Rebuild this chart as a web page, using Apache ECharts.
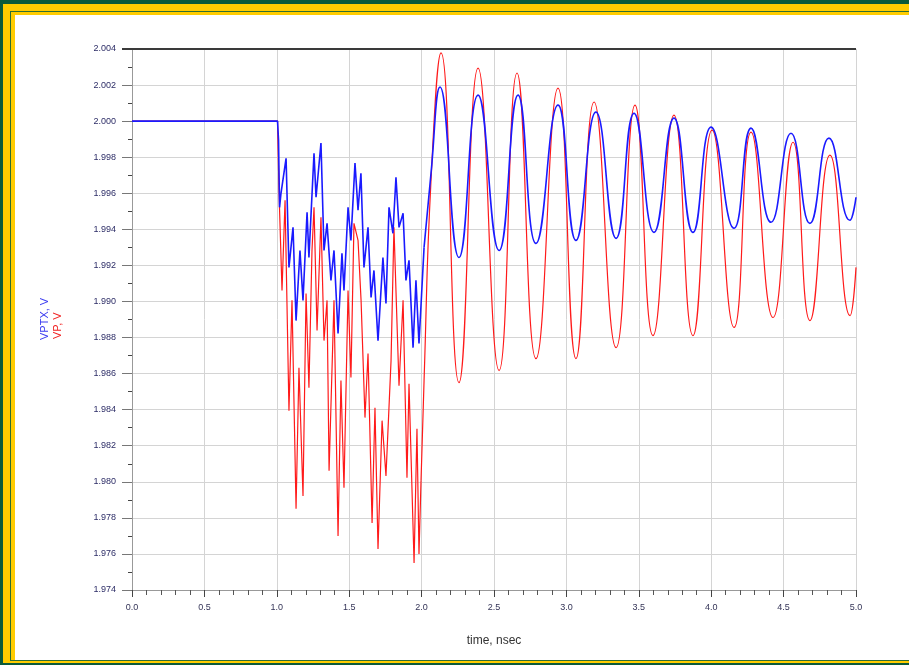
<!DOCTYPE html>
<html>
<head>
<meta charset="utf-8">
<script src="https://cdn.jsdelivr.net/npm/echarts@6/dist/echarts.min.js"></script>
<style>
  html, body { margin: 0; padding: 0; }
  body { width: 909px; height: 665px; position: relative; overflow: hidden; background: #0b5a3a; }
  .fr { position: absolute; }
  #chart { position: absolute; left: 0; top: 0; width: 909px; height: 665px; }
</style>
</head>
<body>
<div class="fr" style="left:3px;top:4px;right:0;bottom:2px;background:#ffcc00"></div>
<div class="fr" style="left:10px;top:11px;right:0;bottom:4px;background:#2f6e32"></div>
<div class="fr" style="left:11px;top:12px;right:0;bottom:5px;background:#ffcc00"></div>
<div class="fr" style="left:15px;top:15px;right:0;bottom:5px;background:#ffffff"></div>
<div id="chart"></div>
<script>
// VPTX (blue) and VP (red), time in nsec, volts
const blueStepTime = [0, 1.005, 1.012, 1.019, 1.029, 1.064, 1.084, 1.112, 1.133, 1.160, 1.181, 1.209, 1.222, 1.257, 1.271, 1.305, 1.326, 1.347, 1.374, 1.395, 1.423, 1.450, 1.464, 1.492, 1.512, 1.540, 1.561, 1.581, 1.602, 1.630, 1.651, 1.671, 1.699, 1.733, 1.754, 1.775, 1.802, 1.823, 1.844, 1.872, 1.892, 1.913, 1.941, 1.961, 1.982, 2.017]
const blueStepVolts = [2.0000, 2.0000, 1.99894, 1.99522, 1.99600, 1.99794, 1.99189, 1.99411, 1.98894, 1.99283, 1.99006, 1.99494, 1.99244, 1.99822, 1.99578, 1.99878, 1.99283, 1.99433, 1.99117, 1.99283, 1.98822, 1.99267, 1.99061, 1.99522, 1.99339, 1.99767, 1.99506, 1.99711, 1.99189, 1.99411, 1.99022, 1.99172, 1.98783, 1.99244, 1.98989, 1.99522, 1.99378, 1.99689, 1.99411, 1.99489, 1.99117, 1.99228, 1.98744, 1.99117, 1.98767, 1.99300]
const blueRingTime = [2.017, 2.065, 2.127, 2.258, 2.390, 2.535, 2.666, 2.790, 2.942, 3.066, 3.204, 3.343, 3.467, 3.605, 3.743, 3.874, 3.999, 4.157, 4.275, 4.413, 4.551, 4.682, 4.813, 4.958, 5.000]
const blueRingVolts = [1.99300, 1.99711, 2.00189, 1.99244, 2.00144, 1.99283, 2.00144, 1.99322, 2.00089, 1.99339, 2.00050, 1.99350, 2.00044, 1.99383, 2.00017, 1.99383, 1.99967, 1.99406, 1.99961, 1.99439, 1.99933, 1.99433, 1.99906, 1.99450, 1.99578]

const redStepTime = [0, 1.005, 1.015, 1.036, 1.057, 1.084, 1.105, 1.133, 1.153, 1.181, 1.202, 1.222, 1.243, 1.257, 1.278, 1.305, 1.326, 1.347, 1.361, 1.395, 1.423, 1.443, 1.464, 1.492, 1.512, 1.533, 1.561, 1.582, 1.609, 1.630, 1.658, 1.678, 1.699, 1.727, 1.754, 1.789, 1.809, 1.844, 1.872, 1.899, 1.913, 1.948, 1.968, 1.982, 1.996]
const redStepVolts = [2.0000, 2.0000, 1.99617, 1.99061, 1.99561, 1.98394, 1.99006, 1.97850, 1.98633, 1.97922, 1.99044, 1.98522, 1.99283, 1.99522, 1.98839, 1.99467, 1.98783, 1.99006, 1.98061, 1.99006, 1.97700, 1.98561, 1.97967, 1.99061, 1.98578, 1.99433, 1.99339, 1.99006, 1.98356, 1.98711, 1.97772, 1.98411, 1.97628, 1.98339, 1.98033, 1.98672, 1.99411, 1.98533, 1.99006, 1.98022, 1.98544, 1.97550, 1.98294, 1.97600, 1.98006]
const redRingTime = [1.996, 2.017, 2.065, 2.134, 2.258, 2.390, 2.535, 2.659, 2.790, 2.942, 3.066, 3.191, 3.343, 3.474, 3.598, 3.743, 3.874, 4.006, 4.158, 4.275, 4.427, 4.565, 4.682, 4.820, 4.959, 5.000]
const redRingVolts = [1.98006, 1.98561, 1.99672, 2.00378, 1.98550, 2.00294, 1.98617, 2.00267, 1.98683, 2.00183, 1.98683, 2.00106, 1.98744, 2.00089, 1.98811, 2.00033, 1.98811, 1.99950, 1.98856, 1.99939, 1.98911, 1.99883, 1.98894, 1.99811, 1.98922, 1.99189]

const BLUE = '#1a1aff'
const RED = '#ff1a1a'

function pairs(t, v) {
  return t.map((x, i) => [x, v[i]])
}

function trace(t, v, color, smooth, width) {
  return {
    type: 'line',
    data: pairs(t, v),
    showSymbol: false,
    symbol: 'none',
    smooth: smooth,
    lineStyle: { color: color, width: width },
    animation: false
  }
}

const chart = echarts.init(document.getElementById('chart'))

chart.setOption({
  animation: false,
  grid: { left: 132, right: 53, top: 49, bottom: 75 },
  xAxis: {
    type: 'value',
    min: 0,
    max: 5,
    interval: 0.5,
    name: 'time, nsec',
    nameLocation: 'middle',
    nameGap: 45,
    nameTextStyle: { color: '#333', fontSize: 12, fontFamily: 'Liberation Sans' },
    axisLine: { show: true, onZero: false, lineStyle: { color: '#999', width: 1 } },
    axisTick: { show: true, length: 7, lineStyle: { color: '#444' } },
    minorTick: { show: true, splitNumber: 5, length: 5, lineStyle: { color: '#555' } },
    axisLabel: {
      color: '#343457', fontSize: 9, fontFamily: 'Liberation Sans', margin: 13,
      formatter: v => v.toFixed(1)
    },
    splitLine: { show: true, lineStyle: { color: '#d4d4d4', width: 1 } }
  },
  yAxis: {
    type: 'value',
    min: 1.974,
    max: 2.004,
    interval: 0.002,
    axisLine: { show: true, lineStyle: { color: '#999', width: 1 } },
    axisTick: { show: true, length: 10, lineStyle: { color: '#777' } },
    minorTick: { show: true, splitNumber: 2, length: 4, lineStyle: { color: '#444' } },
    axisLabel: {
      color: '#2c2c66', fontSize: 9, fontFamily: 'Liberation Sans', margin: 16,
      formatter: v => v.toFixed(3)
    },
    splitLine: { show: true, lineStyle: { color: '#d4d4d4', width: 1 } }
  },
  graphic: [
    {
      type: 'line',
      shape: { x1: 122, y1: 49, x2: 856, y2: 49 },
      style: { stroke: '#3a3a3a', lineWidth: 2 },
      z: 10
    },
    {
      type: 'text',
      x: 45,
      y: 340,
      rotation: Math.PI / 2,
      style: { text: 'VPTX, V', fill: '#3a3af0', font: '11px "Liberation Sans"', align: 'left', verticalAlign: 'middle' }
    },
    {
      type: 'text',
      x: 58,
      y: 339,
      rotation: Math.PI / 2,
      style: { text: 'VP, V', fill: '#f02020', font: '11px "Liberation Sans"', align: 'left', verticalAlign: 'middle' }
    }
  ],
  series: [
    trace(redStepTime, redStepVolts, RED, false, 1.2),
    trace(redRingTime, redRingVolts, RED, 0.5, 1.2),
    trace(blueStepTime, blueStepVolts, BLUE, false, 1.6),
    trace(blueRingTime, blueRingVolts, BLUE, 0.5, 1.6)
  ]
})
</script>
</body>
</html>
